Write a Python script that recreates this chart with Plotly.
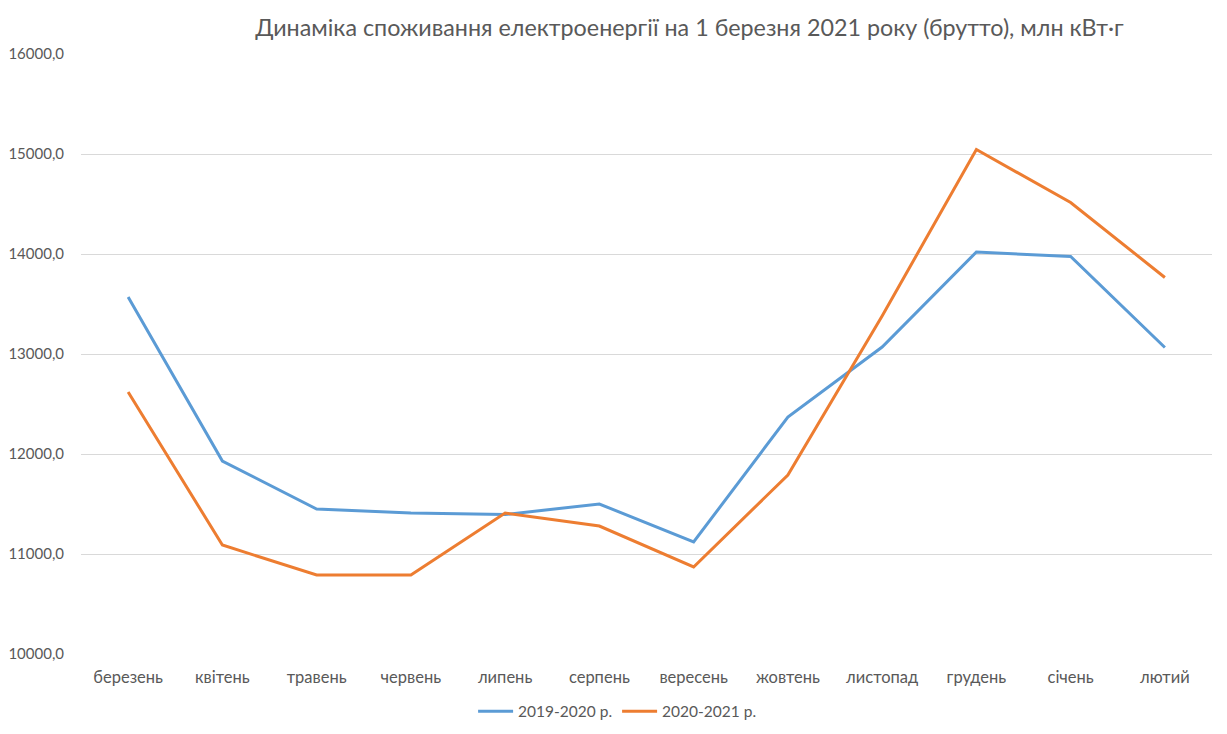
import plotly.graph_objects as go

months = ["березень", "квітень", "травень", "червень", "липень", "серпень",
          "вересень", "жовтень", "листопад", "грудень", "січень", "лютий"]
s2019_2020 = [13570, 11930, 11450, 11410, 11395, 11500, 11120, 12370, 13070, 14020, 13975, 13065]
s2020_2021 = [12620, 11090, 10790, 10790, 11410, 11280, 10870, 11790, 13380, 15045, 14515, 13765]
series_names = ["2019-2020 р.", "2020-2021 р."]
y_ticks = [10000, 11000, 12000, 13000, 14000, 15000, 16000]
y_tick_labels = ["10000,0", "11000,0", "12000,0", "13000,0", "14000,0", "15000,0", "16000,0"]
title_text = "Динаміка споживання електроенергії на 1 березня 2021 року (брутто), млн кВт·г"

FONT = "Lato"
GRAY = "#595959"

fig = go.Figure()
fig.add_trace(go.Scatter(x=months, y=s2019_2020, mode="lines", name=series_names[0],
                         line=dict(color="#5B9BD5", width=3)))
fig.add_trace(go.Scatter(x=months, y=s2020_2021, mode="lines", name=series_names[1],
                         line=dict(color="#ED7D31", width=3)))

fig.update_layout(
    width=1219, height=726,
    margin=dict(l=73, r=15, t=46, b=80, autoexpand=False),
    paper_bgcolor="white", plot_bgcolor="white",
    font=dict(family=FONT, color=GRAY, size=15),
    title=dict(text=title_text, x=0.559, xanchor="center", y=0.9725, yanchor="middle",
               font=dict(family=FONT, size=23.3, color=GRAY)),
    showlegend=True,
    legend=dict(orientation="h", x=0.474, xanchor="center", y=-0.096, yanchor="middle",
                font=dict(family=FONT, size=15.5, color=GRAY), itemwidth=35,
                tracegroupgap=0),
    xaxis=dict(range=[-0.5, 11.5], showgrid=False, zeroline=False, showline=False,
               ticks="", ticklabelstandoff=11, automargin=False,
               tickfont=dict(family=FONT, size=16.5, color=GRAY)),
    yaxis=dict(range=[10000, 16000], tickvals=y_ticks, ticktext=y_tick_labels,
               showgrid=True, gridcolor="#D9D9D9", gridwidth=1, zeroline=False,
               showline=False, ticks="", ticklabelstandoff=16, automargin=False,
               tickfont=dict(family=FONT, size=15, color=GRAY)),
)

fig.write_html("out.html")
